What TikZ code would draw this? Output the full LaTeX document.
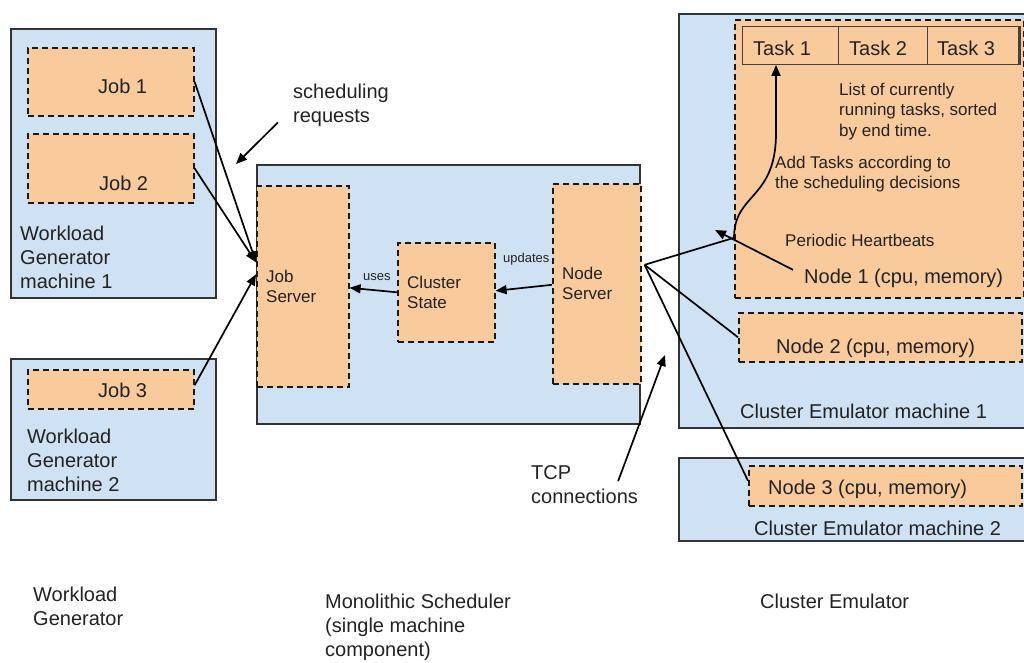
\documentclass[tikz,border=0pt]{standalone}
\usepackage{fontspec}
\setmainfont{Liberation Sans}
\usetikzlibrary{arrows.meta,calc}
\definecolor{machinefill}{HTML}{CFE2F3}
\definecolor{procfill}{HTML}{F9CB9C}
\definecolor{ink}{HTML}{222222}
\definecolor{edge}{HTML}{333333}

\begin{document}
\begin{tikzpicture}[x=1pt,y=-1pt,
  machine/.style={draw=edge, line width=1.6pt, fill=machinefill, inner sep=0, anchor=north west},
  process/.style={draw=black!90, line width=1.6pt, dash pattern=on 6pt off 4pt, fill=procfill, inner sep=0, anchor=north west},
  cell/.style={draw=black!75, line width=0.9pt, inner sep=0, anchor=north west},
  txt/.style={inner sep=0, anchor=base west, align=left, text=ink, font=\fontsize{20}{24}\selectfont},
  small/.style={txt, font=\fontsize{17}{20.5}\selectfont},
  tiny/.style={txt, font=\fontsize{13}{15}\selectfont},
  link/.style={draw=black, line width=1.7pt},
  arrow/.style={link, -{Triangle[length=11pt,width=9pt]}},
]
\useasboundingbox (0,0) rectangle (1024,662);
\clip (0,0) rectangle (1024,662);
% multi-line texts are placed by the baseline of their last line

% ---------- workload generator machines ----------
\node[machine, minimum width=205pt, minimum height=269pt] (wg1) at (10,28) {};
\node[process, minimum width=166pt, minimum height=68pt] (job1) at (27,47) {};
\node[process, minimum width=166pt, minimum height=69pt] (job2) at (27,133) {};
\node[txt] (job1t) at (98,93) {Job 1};
\node[txt] (job2t) at (99,190) {Job 2};
\node[txt] (wg1t) at (20,288) {Workload\\Generator\\machine 1};

\node[machine, minimum width=205pt, minimum height=141pt] (wg2) at (10,358) {};
\node[process, minimum width=166pt, minimum height=39pt] (job3) at (27,369) {};
\node[txt] (job3t) at (98,397) {Job 3};
\node[txt] (wg2t) at (27,491) {Workload\\Generator\\machine 2};

\node[txt] (sr) at (293,122) {scheduling\\requests};
\coordinate (srtip) at (236,164);

% ---------- monolithic scheduler ----------
\node[machine, minimum width=383pt, minimum height=259pt] (sched) at (256,164) {};
\node[process, minimum width=92pt, minimum height=201pt] (js) at (256,185) {};
\node[process, minimum width=97pt, minimum height=99pt] (cs) at (397,242) {};
\node[process, minimum width=88pt, minimum height=200pt] (ns) at (552,183) {};
\node[small] (jst) at (266,302.5) {Job\\Server};
\node[small] (cst) at (407,308.5) {Cluster\\State};
\node[small] (nst) at (562,299.5) {Node\\Server};
\node[tiny] (uses) at (363,280) {uses};
\node[tiny] (upd) at (503,262) {updates};

% ---------- cluster emulator machine 1 ----------
\node[machine, minimum width=352pt, minimum height=414pt] (ce1) at (678,13) {};
\node[process, minimum width=289pt, minimum height=278pt] (n1box) at (734,19) {};
\node[cell, minimum width=96pt, minimum height=38pt] (t1) at (742,26) {};
\node[cell, minimum width=89pt, minimum height=38pt] (t2) at (838,26) {};
\node[cell, minimum width=91pt, minimum height=38pt] (t3) at (927,26) {};
\draw[black!75, line width=2pt] ($(t3.north east)+(1.5,0)$) -- ($(t3.south east)+(1.5,0)$);
\node[txt] (t1t) at (753,55) {Task 1};
\node[txt] (t2t) at (849,55) {Task 2};
\node[txt] (t3t) at (937,55) {Task 3};
\node[small] (listt) at (839,136) {List of currently\\running tasks, sorted\\by end time.};
\node[small] (addt) at (775,188.5) {Add Tasks according to\\the scheduling decisions};
\node[small] (hbt) at (785,246) {Periodic Heartbeats};
\node[txt] (n1) at (804,283) {Node 1 (cpu, memory)};

\node[process, minimum width=283pt, minimum height=49pt] (n2box) at (738,312) {};
\node[txt] (n2) at (776,353) {Node 2 (cpu, memory)};
\node[txt] (ce1t) at (740,418) {Cluster Emulator machine 1};

% ---------- cluster emulator machine 2 ----------
\node[machine, minimum width=352pt, minimum height=83pt] (ce2) at (678,457) {};
\node[process, minimum width=273pt, minimum height=40pt] (n3box) at (748,465) {};
\node[txt] (n3) at (768,494) {Node 3 (cpu, memory)};
\node[txt] (ce2t) at (754,535) {Cluster Emulator machine 2};

\node[txt] (tcp) at (531,503) {TCP\\connections};
\coordinate (tcptip) at (665,355);

% ---------- component captions ----------
\node[txt] (capwg) at (33,625) {Workload\\Generator};
\node[txt] (capms) at (325,656) {Monolithic Scheduler\\(single machine\\component)};
\node[txt] (capce) at (760,608) {Cluster Emulator};

% ---------- connectors ----------
\draw[arrow] (job1.east) -- ([yshift=24pt]js.west);
\draw[arrow] (job2.east) -- ([yshift=24pt]js.west);
\draw[arrow] ([yshift=4pt]job3.east) -- ([yshift=12pt]js.west);
\draw[arrow] ($(sr.south west)+(-15,-4)$) -- (srtip);

\draw[arrow] (cs.west) -- ([yshift=-1.5pt]js.east);
\draw[arrow] ([yshift=-1pt]ns.west) -- ([yshift=1.5pt]cs.east);

\coordinate (nshub) at ([shift={(3pt,19pt)}]ns.east);
\coordinate (tj) at ([yshift=-79pt]n1box.west);
\draw[link] (nshub) -- (tj);
\draw[link] (nshub) -- (n2box.west);
\draw[link] (nshub) -- ([yshift=5pt]n3box.west);
\draw[arrow] (tj) .. controls +(0,-45) and +(0,67) .. (776,133) -- (776,133 |- t1.south);

\coordinate (hb) at (715,230);
\draw[arrow] ($(n1.west)+(-11,-8)$) -- (hb);

\draw[arrow] ($(tcp.east)+(-20,-3)$) -- (tcptip);
\end{tikzpicture}
\end{document}
